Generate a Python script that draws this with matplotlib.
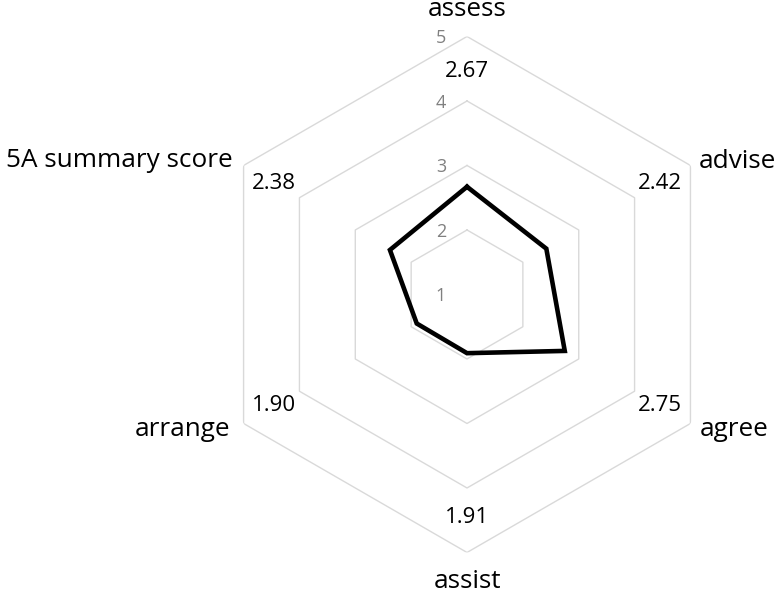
import numpy as np
import matplotlib
matplotlib.use("Agg")
import matplotlib.pyplot as plt

plt.rcParams['font.family'] = ['Open Sans', 'DejaVu Sans']

categories = ["assess", "advise", "agree", "assist", "arrange", "5A summary score"]
scores = [2.67, 2.42, 2.75, 1.91, 1.90, 2.38]
levels = [1, 2, 3, 4, 5]

fig = plt.figure(figsize=(7.79, 5.94), dpi=100)
ax = fig.add_axes([0.2683, 0.0699, 0.6624, 0.8687], projection="polar")
ax.set_theta_zero_location("N")
ax.set_theta_direction(-1)
ax.set_ylim(1, 5)

angles = np.linspace(0, 2 * np.pi, len(categories), endpoint=False)
closed = np.append(angles, angles[0])

# hexagon grid
for lv in levels[1:]:
    ax.plot(closed, [lv] * len(closed), color="#d9d9d9", lw=1.0, zorder=1)

# data line
vals = scores + scores[:1]
ax.plot(closed, vals, color="black", lw=3.3, zorder=3, solid_joinstyle="miter")

# radial tick labels
for lv in levels:
    ax.annotate(str(lv), xy=(0, lv), xytext=(-26, -2), textcoords="offset pixels",
                ha="center", va="center", fontsize=13, color="#808080")

# value labels
for a, s in zip(angles, scores):
    ax.text(a, 4.45, f"{s:.2f}", ha="center", va="center", fontsize=16, color="black")

# category labels
offsets = [(0, 27), (8, 4), (9, -6), (0, -29), (-13, -6), (-11, 5)]
aligns = ["center", "left", "left", "center", "right", "right"]
for a, c, off, al in zip(angles, categories, offsets, aligns):
    ax.annotate(c, xy=(a, 5), xytext=off, textcoords="offset pixels",
                ha=al, va="center", fontsize=18.8, color="black", annotation_clip=False)

ax.grid(False)
ax.set_xticks([])
ax.set_yticks([])
ax.spines["polar"].set_visible(False)
ax.patch.set_visible(False)

fig.savefig("out.png", dpi=100)
